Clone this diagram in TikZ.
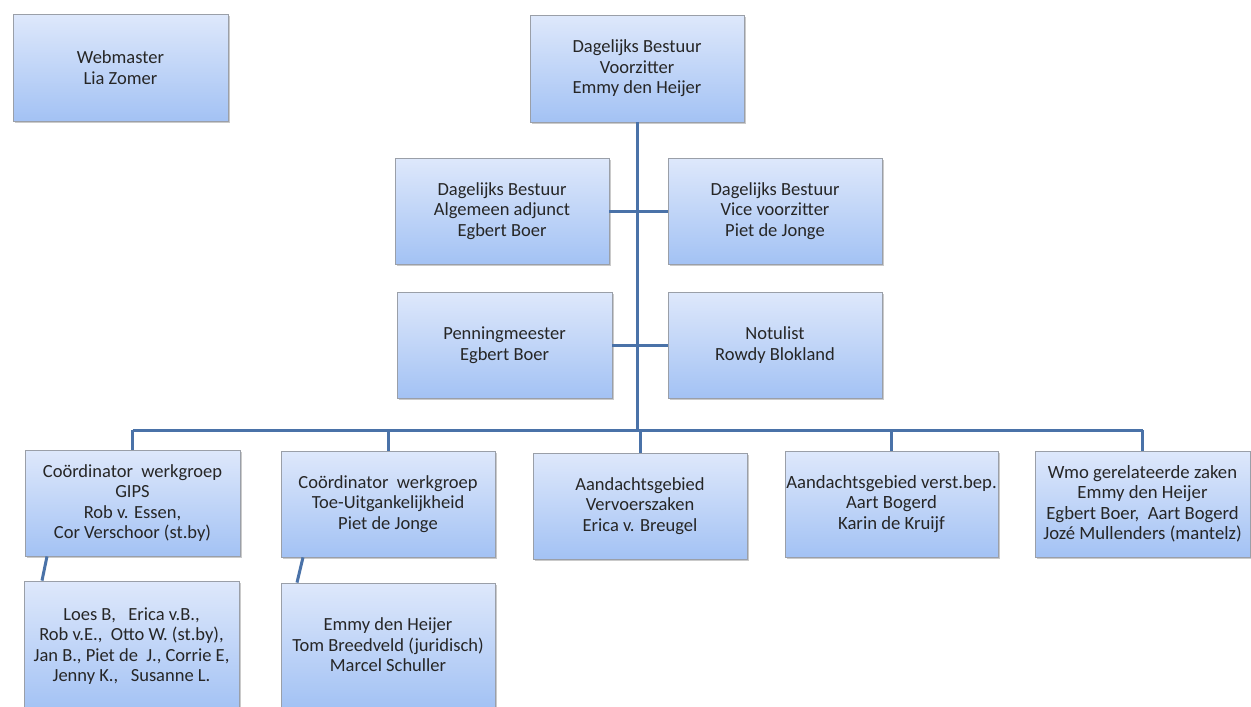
\documentclass[tikz,border=0pt]{standalone}
\usepackage{fontspec}
\setmainfont{Carlito}
\usetikzlibrary{shadows}
\definecolor{linec}{HTML}{4A72A8}
\definecolor{boxtop}{HTML}{DEE8FB}
\definecolor{boxbot}{HTML}{A3C2F4}
\definecolor{boxdraw}{HTML}{9A9FA8}
\tikzset{
  orgbox/.style={draw=boxdraw, line width=0.8pt, top color=boxtop, bottom color=boxbot,
    minimum width=214pt, align=center, inner xsep=0pt, inner ysep=1pt,
    font=\fontsize{18.5}{20.5}\selectfont, text=black!85,
    drop shadow={shadow xshift=1.5pt, shadow yshift=-2pt, opacity=0.35, fill=black!60}},
  widetext/.style={font=\fontsize{18.7}{20.5}\selectfont},
  conn/.style={draw=linec, line width=3pt}
}
\begin{document}
\begin{tikzpicture}[x=1pt, y=-1pt]
\useasboundingbox (0,0) rectangle (1251,707);
\clip (0,0) rectangle (1251,707);
% top row
\node[orgbox, minimum width=215pt, minimum height=107pt] (web) at (120.5,67.5) {Webmaster\\Lia Zomer};
\node[orgbox, minimum height=107pt] (vz) at (637,68.5) {Dagelijks Bestuur\\Voorzitter\\Emmy den Heijer};
% second row
\node[orgbox, minimum height=106pt] (adj) at (502,211) {Dagelijks Bestuur\\Algemeen adjunct\\Egbert Boer};
\node[orgbox, minimum height=106pt] (vice) at (775,211) {Dagelijks Bestuur\\Vice voorzitter\\Piet de Jonge};
% third row
\node[orgbox, minimum width=215pt, minimum height=106pt] (pen) at (504.5,345) {Penningmeester\\Egbert Boer};
\node[orgbox, minimum height=106pt] (not) at (775,345) {Notulist\\Rowdy Blokland};
% bottom row
\node[orgbox, minimum width=215pt, minimum height=106pt] (gips) at (132.5,503) {Coördinator\ \ werkgroep\\GIPS\\Rob v. Essen,\\Cor Verschoor (st.by)};
\node[orgbox, minimum height=106pt] (toe) at (388,504) {Coördinator\ \ werkgroep\\Toe-Uitgankelijkheid\\Piet de Jonge};
\node[orgbox, minimum height=106pt] (verv) at (640,506) {Aandachtsgebied\\Vervoerszaken\\Erica v. Breugel};
\node[orgbox, widetext, minimum width=213pt, minimum height=106pt] (vb) at (891.5,504) {Aandachtsgebied verst.bep.\\Aart Bogerd\\Karin de Kruijf};
\node[orgbox, widetext, minimum width=215pt, minimum height=106pt] (wmo) at (1142.5,504) {Wmo gerelateerde zaken\\Emmy den Heijer\\Egbert Boer,\ \ Aart Bogerd\\Jozé Mullenders (mantelz)};
% sub boxes
\node[orgbox, minimum width=215pt, minimum height=130pt] (loes) at (131.5,646) {Loes B,\ \ \ Erica v.B.,\\Rob v.E.,\ \ Otto W. (st.by),\\Jan B., Piet de\ \ J., Corrie E,\\Jenny K.,\ \ \ Susanne L.};
\node[orgbox, minimum height=124pt] (emmy) at (388,645) {Emmy den Heijer\\Tom Breedveld (juridisch)\\Marcel Schuller};
% connectors
\coordinate (busY) at (0,430);
\draw[conn] (vz.south) -- (vz.south |- busY);
\draw[conn] (adj.east) -- (vice.west);
\draw[conn] (pen.east) -- (not.west);
\draw[conn] (gips.north |- busY) -- (wmo.north |- busY);
\foreach \n in {gips,toe,verv,vb,wmo}{
  \draw[conn] (\n.north) -- (\n.north |- busY);
}
\draw[conn] ([xshift=-85.5pt]gips.south) -- ([xshift=-89.5pt]loes.north);
\draw[conn] ([xshift=-85pt]toe.south) -- ([xshift=-91pt]emmy.north);
\end{tikzpicture}
\end{document}
